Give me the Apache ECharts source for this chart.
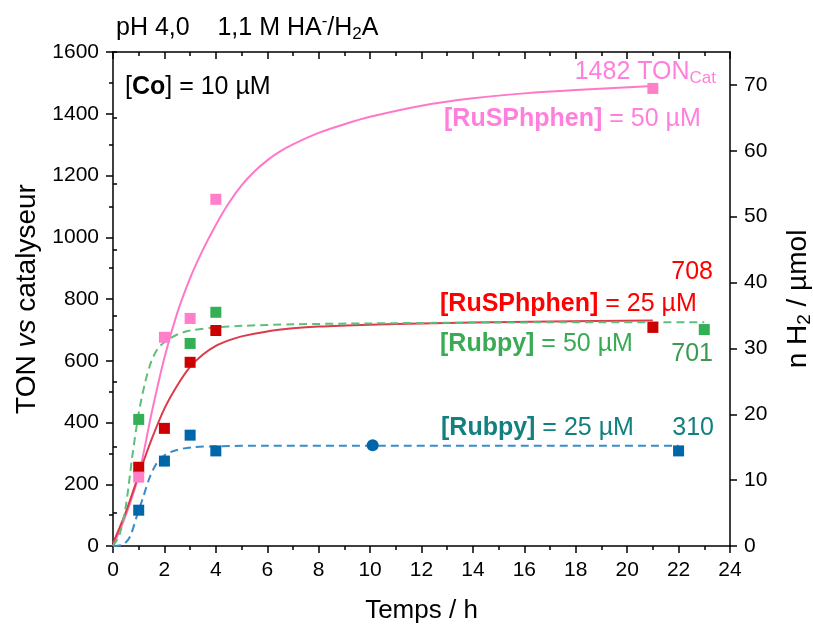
<!DOCTYPE html>
<html>
<head>
<meta charset="utf-8">
<script src="https://cdn.jsdelivr.net/npm/echarts@6/dist/echarts.min.js"></script>
<style>
  html, body { margin: 0; padding: 0; background: #fff; }
  #main { width: 813px; height: 630px; }
</style>
</head>
<body>
<div id="main"></div>
<script>
  // measured points (h, TON)
  const pinkPts = [[1, 223], [2, 676], [3, 737], [4, 1123], [21, 1482]]
  const redPts = [[1, 255], [2, 381], [3, 595], [4, 698], [21, 708]]
  const greenPts = [[1, 410], [3, 656], [4, 757], [23, 701]]
  const bluePts = [[1, 116], [2, 275], [3, 359], [4, 308], [22, 308]]
  const blueCircle = [[10.1, 326]]

  // fit curves
  const pinkFitT = [0, 0.5, 1, 1.5, 2, 2.5, 3, 3.5, 4, 4.5, 5, 5.5, 6, 6.5, 7, 8, 9, 10, 12, 14, 16, 18, 21]
  const pinkFitV = [0, 100, 230, 430, 610, 755, 868, 960, 1040, 1110, 1168, 1213, 1249, 1278, 1301, 1338, 1366, 1390, 1426, 1450, 1466, 1477, 1490]
  const redFitT = [0, 0.5, 1, 1.5, 2, 2.5, 3, 3.5, 4, 4.5, 5, 6, 7, 8, 10, 12, 14, 17, 21]
  const redFitV = [9, 110, 230, 345, 445, 520, 580, 620, 648, 666, 679, 695, 705, 711, 717, 721, 724, 727, 730]
  const greenFitT = [0, 0.25, 0.5, 0.75, 1, 1.25, 1.5, 1.75, 2, 2.5, 3, 4, 5, 7, 10, 15, 23]
  const greenFitV = [0, 35, 130, 290, 430, 530, 600, 640, 660, 685, 698, 708, 713, 718, 721, 724, 725]
  const blueFitT = [0, 0.4, 0.66, 0.92, 1.18, 1.44, 1.7, 2.03, 2.48, 3.13, 4, 6, 10, 15, 22]
  const blueFitV = [0, 5, 30, 95, 160, 225, 268, 295, 311, 320, 323, 325, 325, 325, 325]

  // right axis ticks (n H2 / umol)
  const h2Major = [0, 10, 20, 30, 40, 50, 60, 70]
  const h2Minor = [5, 15, 25, 35, 45, 55, 65, 75]

  const ff = 'Liberation Sans, Arial, sans-serif'
  const black = '#000'
  const tickFont = 21
  const textFont = 25

  function zip (ts, vs) {
    return ts.map((t, i) => [t, vs[i]])
  }

  function label (x, y, text, color, align) {
    return {
      type: 'text',
      x: x,
      y: y,
      style: {
        text: text,
        fill: color,
        align: align || 'left',
        verticalAlign: 'middle',
        rich: {
          n: { fontSize: textFont, lineHeight: 30, fontFamily: ff, fill: color },
          b: { fontSize: textFont, lineHeight: 30, fontFamily: ff, fontWeight: 'bold', fill: color },
          s: { fontSize: 17, lineHeight: 17, verticalAlign: 'bottom', fontFamily: ff, fill: color },
          p: { fontSize: 17, lineHeight: 17, verticalAlign: 'top', fontFamily: ff, fill: color }
        }
      }
    }
  }

  function fitLine (name, data, color, dashed) {
    return {
      name: name,
      type: 'line',
      data: data,
      showSymbol: false,
      smooth: 0.3,
      silent: true,
      z: 2,
      lineStyle: { color: color, width: 2, type: dashed ? [8, 5] : 'solid' }
    }
  }

  function scatter (name, data, color, symbol) {
    return {
      name: name,
      type: 'scatter',
      data: data,
      symbol: symbol || 'rect',
      symbolSize: symbol === 'circle' ? 12 : 11,
      z: 3,
      itemStyle: { color: color, opacity: 1 }
    }
  }

  const plainNum = function (v) { return String(v) }

  const axisCommon = {
    splitLine: { show: false },
    axisLine: { show: true, onZero: false, lineStyle: { color: black, width: 1.5 } },
    axisTick: { show: true, length: 7, lineStyle: { color: black, width: 1.5 } },
    minorTick: { show: true, splitNumber: 2, length: 4, lineStyle: { color: black, width: 1.5 } },
    axisLabel: { fontSize: tickFont, color: black, fontFamily: ff, formatter: plainNum },
    nameTextStyle: { fontSize: 26, color: black, fontFamily: ff }
  }

  const chart = echarts.init(document.getElementById('main'))

  const option = {
    animation: false,
    backgroundColor: '#fff',
    grid: { left: 113, right: 83, top: 52, bottom: 84, containLabel: false, outerBoundsMode: 'none' },
    xAxis: [
      Object.assign({}, axisCommon, {
        type: 'value',
        min: 0,
        max: 24,
        interval: 2,
        position: 'bottom',
        name: 'Temps / h',
        nameLocation: 'middle',
        nameGap: 52,
        axisLabel: { fontSize: tickFont, color: black, fontFamily: ff, margin: 14, formatter: plainNum }
      }),
      Object.assign({}, axisCommon, {
        type: 'value',
        min: 0,
        max: 24,
        interval: 2,
        position: 'top',
        axisTick: { show: true, inside: true, length: 7, lineStyle: { color: black, width: 1.5 } },
        minorTick: { show: true, splitNumber: 2, length: 4, lineStyle: { color: black, width: 1.5 } },
        axisLabel: { show: false }
      })
    ],
    yAxis: [
      Object.assign({}, axisCommon, {
        type: 'value',
        min: 0,
        max: 1600,
        interval: 200,
        position: 'left',
        name: '{n|TON }{i|vs}{n| catalyseur}',
        nameLocation: 'middle',
        nameGap: 64,
        axisLabel: { fontSize: tickFont, color: black, fontFamily: ff, margin: 14, formatter: plainNum },
        nameTextStyle: {
          fontSize: 28,
          color: black,
          fontFamily: ff,
          rich: {
            n: { fontSize: 28, fontFamily: ff, color: black },
            i: { fontSize: 28, fontFamily: ff, color: black, fontStyle: 'italic' }
          }
        }
      }),
      Object.assign({}, axisCommon, {
        type: 'value',
        min: 0,
        max: 75,
        position: 'right',
        name: '{n|n H}{s|2}{n| / µmol}',
        nameLocation: 'middle',
        nameGap: 52,
        axisTick: { show: true, length: 7, customValues: h2Major, lineStyle: { color: black, width: 1.5 } },
        minorTick: { show: false },
        axisLabel: { fontSize: tickFont, color: black, fontFamily: ff, margin: 14, customValues: h2Major },
        nameTextStyle: {
          fontSize: 28,
          color: black,
          fontFamily: ff,
          rich: {
            n: { fontSize: 28, lineHeight: 32, fontFamily: ff, color: black },
            s: { fontSize: 19, lineHeight: 19, verticalAlign: 'bottom', fontFamily: ff, color: black }
          }
        }
      }),
      {
        type: 'value',
        min: 0,
        max: 75,
        position: 'right',
        splitLine: { show: false },
        axisLine: { show: false },
        axisTick: { show: true, length: 4, customValues: h2Minor, lineStyle: { color: black, width: 1.5 } },
        axisLabel: { show: false }
      }
    ],
    graphic: [
      label(116, 28, '{n|pH 4,0    1,1 M HA}{p|-}{n|/H}{s|2}{n|A}', black),
      label(125, 87, '{n|[}{b|Co}{n|] = 10 µM}', black),
      label(716, 72, '{n|1482 TON}{s|Cat}', '#ff80dc', 'right'),
      label(444, 119, '{b|[RuSPhphen]}{n| = 50 µM}', '#ff80dc'),
      label(713, 272, '{n|708}', '#ff0000', 'right'),
      label(440, 304, '{b|[RuSPhphen]}{n| = 25 µM}', '#ff0000'),
      label(440, 344, '{b|[Rubpy]}{n| = 50 µM}', '#3aaa55'),
      label(713, 354, '{n|701}', '#3a9a50', 'right'),
      label(441, 428, '{b|[Rubpy]}{n| = 25 µM}', '#138080'),
      label(714, 428, '{n|310}', '#138080', 'right')
    ],
    series: [
      fitLine('pinkFit', zip(pinkFitT, pinkFitV), '#ff78c8', false),
      fitLine('redFit', zip(redFitT, redFitV), '#dd3a4a', false),
      fitLine('greenFit', zip(greenFitT, greenFitV), '#5cc07a', true),
      fitLine('blueFit', zip(blueFitT, blueFitV), '#3a8cc8', true),
      scatter('red', redPts, '#cc0000'),
      scatter('green', greenPts, '#33b055'),
      scatter('blue', bluePts, '#0066aa'),
      scatter('blueCircle', blueCircle, '#0066aa', 'circle'),
      scatter('pink', pinkPts, '#ff7fc8')
    ]
  }

  chart.setOption(option)
  window.addEventListener('resize', function () {
    chart.resize()
  })
</script>
</body>
</html>
